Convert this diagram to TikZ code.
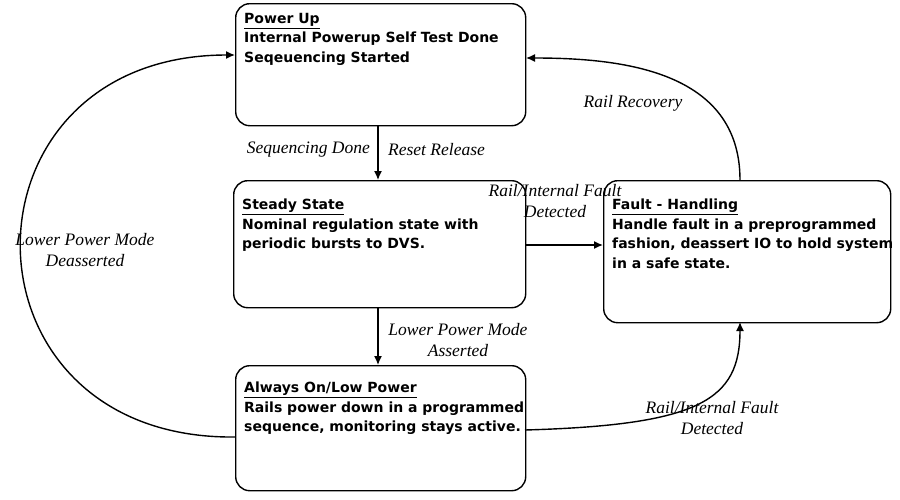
\documentclass[tikz,border=0pt]{standalone}
\usepackage{fontspec}
\usetikzlibrary{arrows.meta}
\setmainfont{DejaVu Sans}
\newfontfamily\lblfont{Liberation Serif}
\begin{document}
\begin{tikzpicture}[x=1pt,y=-1pt,
  box/.style={draw,line width=1.4pt,rounded corners=14pt,anchor=north west,inner sep=0},
  txt/.style={anchor=north west,align=left,font=\fontsize{14}{19.5}\selectfont\bfseries,inner sep=0},
  lbl/.style={font=\lblfont\itshape\fontsize{17.5}{21}\selectfont,align=center,inner sep=0},
  arr/.style={line width=1.4pt,-{Latex[length=9pt,width=8pt]}}]
\useasboundingbox (0,0) rectangle (900,499);
\node[box,minimum width=290pt,minimum height=122pt] (pu) at (235,3) {};
\node[box,minimum width=292pt,minimum height=127pt] (ss) at (233,180) {};
\node[box,minimum width=287pt,minimum height=142pt] (fh) at (603,180) {};
\node[box,minimum width=290pt,minimum height=125pt] (ao) at (235,365) {};
\node[txt] (put) at (244,13) {\underline{Power Up}\\Internal Powerup Self Test Done\\Seqeuencing Started};
\node[txt] (sst) at (242,199) {\underline{Steady State}\\Nominal regulation state with\\periodic bursts to DVS.};
\node[txt] (fht) at (612,199) {\underline{Fault - Handling}\\Handle fault in a preprogrammed\\fashion, deassert IO to hold system\\in a safe state.};
\node[txt] (aot) at (244,382) {\underline{Always On/Low Power}\\Rails power down in a programmed\\sequence, monitoring stays active.};
\coordinate (a1) at (378,125); \coordinate (a2) at (378,180);
\draw[arr] (a1) -- (a2);
\coordinate (b1) at (378,307); \coordinate (b2) at (378,365);
\draw[arr] (b1) -- (b2);
\coordinate (c1) at (525,245); \coordinate (c2) at (603,245);
\draw[arr] (c1) -- (c2);
\coordinate (d1) at (740,180); \coordinate (d2) at (526,58);
\draw[arr] (d1) .. controls (740,70) and (620,58) .. (d2);
\coordinate (e1) at (525,430); \coordinate (e2) at (740,322);
\draw[arr] (e1) .. controls (700,425) and (740,400) .. (e2);
\coordinate (f1) at (235,437); \coordinate (f2) at (235,55);
\draw[arr] (f1) .. controls (-50,440) and (-50,55) .. (f2);
\node[lbl,anchor=east] (l1) at (370,150) {Sequencing Done};
\node[lbl,anchor=west] (l2) at (388,150) {Reset Release};
\node[lbl] (l3) at (633,103) {Rail Recovery};
\node[lbl] (l4) at (555,201) {Rail/Internal Fault\\Detected};
\node[lbl] (l5) at (85,250) {Lower Power Mode\\Deasserted};
\node[lbl] (l6) at (458,340) {Lower Power Mode\\Asserted};
\node[lbl] (l7) at (712,418) {Rail/Internal Fault\\Detected};
\end{tikzpicture}
\end{document}
